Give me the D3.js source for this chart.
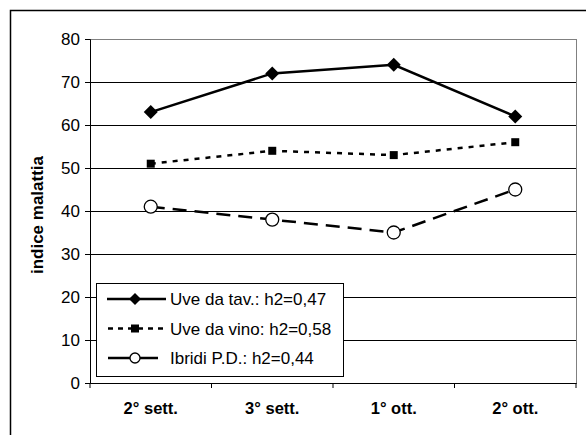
<!DOCTYPE html>
<html>
<head>
<meta charset="utf-8">
<script src="https://cdn.jsdelivr.net/npm/d3@7"></script>
<style>
  body { margin: 0; background: #fff; }
  svg { display: block; font-family: Arial, "Liberation Sans", sans-serif; }
</style>
</head>
<body>
<svg id="chart" width="586" height="435"></svg>
<script>
// categories and values
const categories = ['2° sett.', '3° sett.', '1° ott.', '2° ott.'];
const tavola = [63, 72, 74, 62];
const vino = [51, 54, 53, 56];
const ibridi = [41, 38, 35, 45];
const seriesNames = ['Uve da tav.: h2=0,47', 'Uve da vino: h2=0,58', 'Ibridi P.D.: h2=0,44'];
const yTicks = [0, 10, 20, 30, 40, 50, 60, 70, 80];

const series = [
    {name: seriesNames[0], values: tavola, dash: null, marker: 'diamond'},
    {name: seriesNames[1], values: vino, dash: '5,6', marker: 'square'},
    {name: seriesNames[2], values: ibridi, dash: '14,8', marker: 'circle'}
];

const svg = d3.select('#chart');
const margin = {top: 39, left: 90, right: 10, bottom: 52};
const width = 586 - margin.left - margin.right,
    height = 435 - margin.top - margin.bottom;

// outer frame
svg.append('rect')
    .attr('x', 10.5).attr('y', 10.5)
    .attr('width', 600).attr('height', 500)
    .attr('fill', 'none').attr('stroke', '#000').attr('stroke-width', 1.5);

const x = d3.scaleBand().domain(categories).range([0, width]);
const y = d3.scaleLinear().domain([0, 80]).range([height, 0]);

const g = svg.append('g')
    .attr('transform', 'translate(' + margin.left + ',' + margin.top + ')');

// gridlines
g.selectAll('.grid')
    .data(yTicks.filter(d => d > 0))
    .enter().append('line')
    .attr('x1', 0).attr('x2', width)
    .attr('y1', d => Math.round(y(d)) + 0.5).attr('y2', d => Math.round(y(d)) + 0.5)
    .attr('stroke', '#000').attr('stroke-width', 1);

// plot area border
g.append('rect')
    .attr('x', 0.5).attr('y', 0.5)
    .attr('width', width).attr('height', height)
    .attr('fill', 'none').attr('stroke', '#808080').attr('stroke-width', 1);

// axes
const yAxis = g.append('g')
    .call(d3.axisLeft(y).tickValues(yTicks).tickSize(5).tickPadding(5));
yAxis.select('.domain').attr('stroke', '#000');
yAxis.selectAll('text').attr('font-size', 17).attr('fill', '#000');

const xAxis = g.append('g')
    .attr('transform', 'translate(0,' + height + ')')
    .call(d3.axisBottom(x).tickSize(0).tickPadding(19));
xAxis.select('.domain').attr('stroke', '#000');
xAxis.selectAll('text').attr('font-size', 16.5).attr('font-weight', 'bold').attr('fill', '#000');

// ticks between categories
g.selectAll('.xtick')
    .data(d3.range(categories.length + 1))
    .enter().append('line')
    .attr('x1', i => i * x.step()).attr('x2', i => i * x.step())
    .attr('y1', height).attr('y2', height + 5)
    .attr('stroke', '#000');

// y label
svg.append('text')
    .attr('transform', 'translate(43,' + (margin.top + 176) + ') rotate(-90)')
    .attr('text-anchor', 'middle')
    .attr('font-size', 17).attr('font-weight', 'bold')
    .text('indice malattia');

function drawMarker(sel, type) {
    if (type === 'diamond') {
        sel.append('path').attr('d', 'M0,-7L7,0L0,7L-7,0Z').attr('fill', '#000');
    } else if (type === 'square') {
        sel.append('rect').attr('x', -4).attr('y', -4).attr('width', 8).attr('height', 8).attr('fill', '#000');
    } else {
        sel.append('circle').attr('r', 6.5).attr('fill', '#fff').attr('stroke', '#000').attr('stroke-width', 1.3);
    }
}

const line = d3.line()
    .x((d, i) => x(categories[i]) + x.bandwidth() / 2)
    .y(d => y(d));

series.forEach(s => {
    g.append('path')
        .datum(s.values)
        .attr('d', line)
        .attr('fill', 'none')
        .attr('stroke', '#000')
        .attr('stroke-width', 2.5)
        .attr('stroke-dasharray', s.dash);
    s.values.forEach((v, i) => {
        const m = g.append('g')
            .attr('transform', 'translate(' + (x(categories[i]) + x.bandwidth() / 2) + ',' + y(v) + ')');
        drawMarker(m, s.marker);
    });
});

// legend
const legend = svg.append('g').attr('transform', 'translate(96,283)');
legend.append('rect')
    .attr('x', 0.5).attr('y', 0.5).attr('width', 247).attr('height', 93)
    .attr('fill', '#fff').attr('stroke', '#000').attr('stroke-width', 1);

// legend sample lines: [x1, x2, dash]
const legendLines = [[11, 70, null], [12, 67, '5,5'], [12, 62, '22,10,20']];

series.forEach((s, i) => {
    const row = legend.append('g').attr('transform', 'translate(0,' + (16 + i * 29.5) + ')');
    row.append('line')
        .attr('x1', legendLines[i][0]).attr('x2', legendLines[i][1]).attr('y1', 0).attr('y2', 0)
        .attr('stroke', '#000').attr('stroke-width', 2.5)
        .attr('stroke-dasharray', legendLines[i][2]);
    const m = row.append('g').attr('transform', 'translate(39,0)');
    if (s.marker === 'circle') {
        m.append('circle').attr('r', 5).attr('fill', '#fff').attr('stroke', '#000').attr('stroke-width', 1.3);
    } else if (s.marker === 'diamond') {
        m.append('path').attr('d', 'M0,-6L6,0L0,6L-6,0Z').attr('fill', '#000');
    } else {
        m.append('rect').attr('x', -4).attr('y', -4).attr('width', 8).attr('height', 8).attr('fill', '#000');
    }
    row.append('text')
        .attr('x', 74).attr('y', 6)
        .attr('font-size', 17)
        .text(s.name);
});
</script>
</body>
</html>
